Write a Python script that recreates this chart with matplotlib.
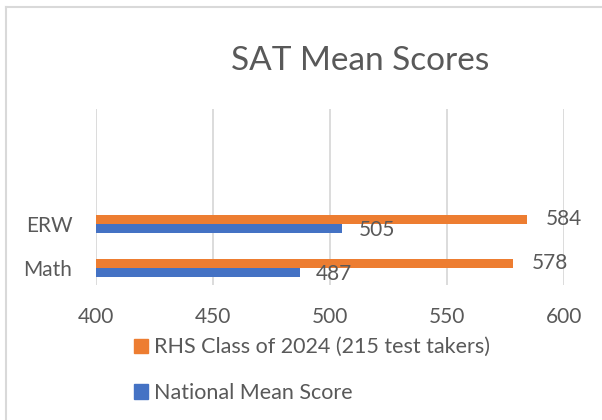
import matplotlib
matplotlib.use('Agg')
import matplotlib.pyplot as plt
from matplotlib.lines import Line2D
from matplotlib.patches import Patch
import numpy as np

# data
categories = ['Math', 'ERW']
rhs_scores = [578, 584]
national_scores = [487, 505]
series_names = ['RHS Class of 2024 (215 test takers)', 'National Mean Score']
x_ticks = [400, 450, 500, 550, 600]

orange = '#ED7D31'
blue = '#4472C4'
txt = '#595959'
grid = '#D9D9D9'

plt.rcParams['font.family'] = ['Lato', 'DejaVu Sans']

fig = plt.figure(figsize=(6.02, 4.2), dpi=100)
ax = fig.add_axes([0.1595, 0.3214, 0.7774, 0.4190])

y = np.arange(len(categories))
h = 0.2
ax.barh(y + h / 2, rhs_scores, height=h, color=orange, zorder=3)
ax.barh(y - h / 2, national_scores, height=h, color=blue, zorder=3)

for yy, v in zip(y + h / 2, rhs_scores):
    ax.annotate('%d' % v, xy=(v, yy), xytext=(14, 0), textcoords='offset points',
                ha='left', va='center', fontsize=15, color=txt)
for yy, v in zip(y - h / 2, national_scores):
    ax.annotate('%d' % v, xy=(v, yy), xytext=(12, -1.5), textcoords='offset points',
                ha='left', va='center', fontsize=15, color=txt)

ax.set_xlim(400, 600)
ax.set_ylim(-0.39, 3.61)
ax.set_xticks(x_ticks)
ax.set_yticks(y)
ax.set_yticklabels(categories)
ax.tick_params(length=0, labelsize=15, colors=txt)
ax.tick_params(axis='x', pad=16)
ax.tick_params(axis='y', pad=17)
ax.grid(axis='x', color=grid, linewidth=1.3, zorder=0)
for s in ax.spines.values():
    s.set_visible(False)

fig.text(0.598, 0.855, 'SAT Mean Scores', ha='center', va='center',
         fontsize=24, color=txt)

handles = [Patch(color=orange), Patch(color=blue)]
ax.legend(handles, series_names, loc='upper left', bbox_to_anchor=(0.2226, 0.197),
          bbox_transform=fig.transFigure, frameon=False, fontsize=15.5,
          labelcolor=txt, handlelength=0.65, handleheight=0.65, handletextpad=0.3,
          labelspacing=1.2, borderaxespad=0, borderpad=0)

# outer chart border (cropped on the right/bottom)
fig.add_artist(Line2D([5.5 / 602, 5.5 / 602], [0, 1 - 6.5 / 420], color=grid, linewidth=1.5))
fig.add_artist(Line2D([5.5 / 602, 1], [1 - 6.5 / 420, 1 - 6.5 / 420], color=grid, linewidth=1.5))

fig.savefig('out.png', dpi=100)
